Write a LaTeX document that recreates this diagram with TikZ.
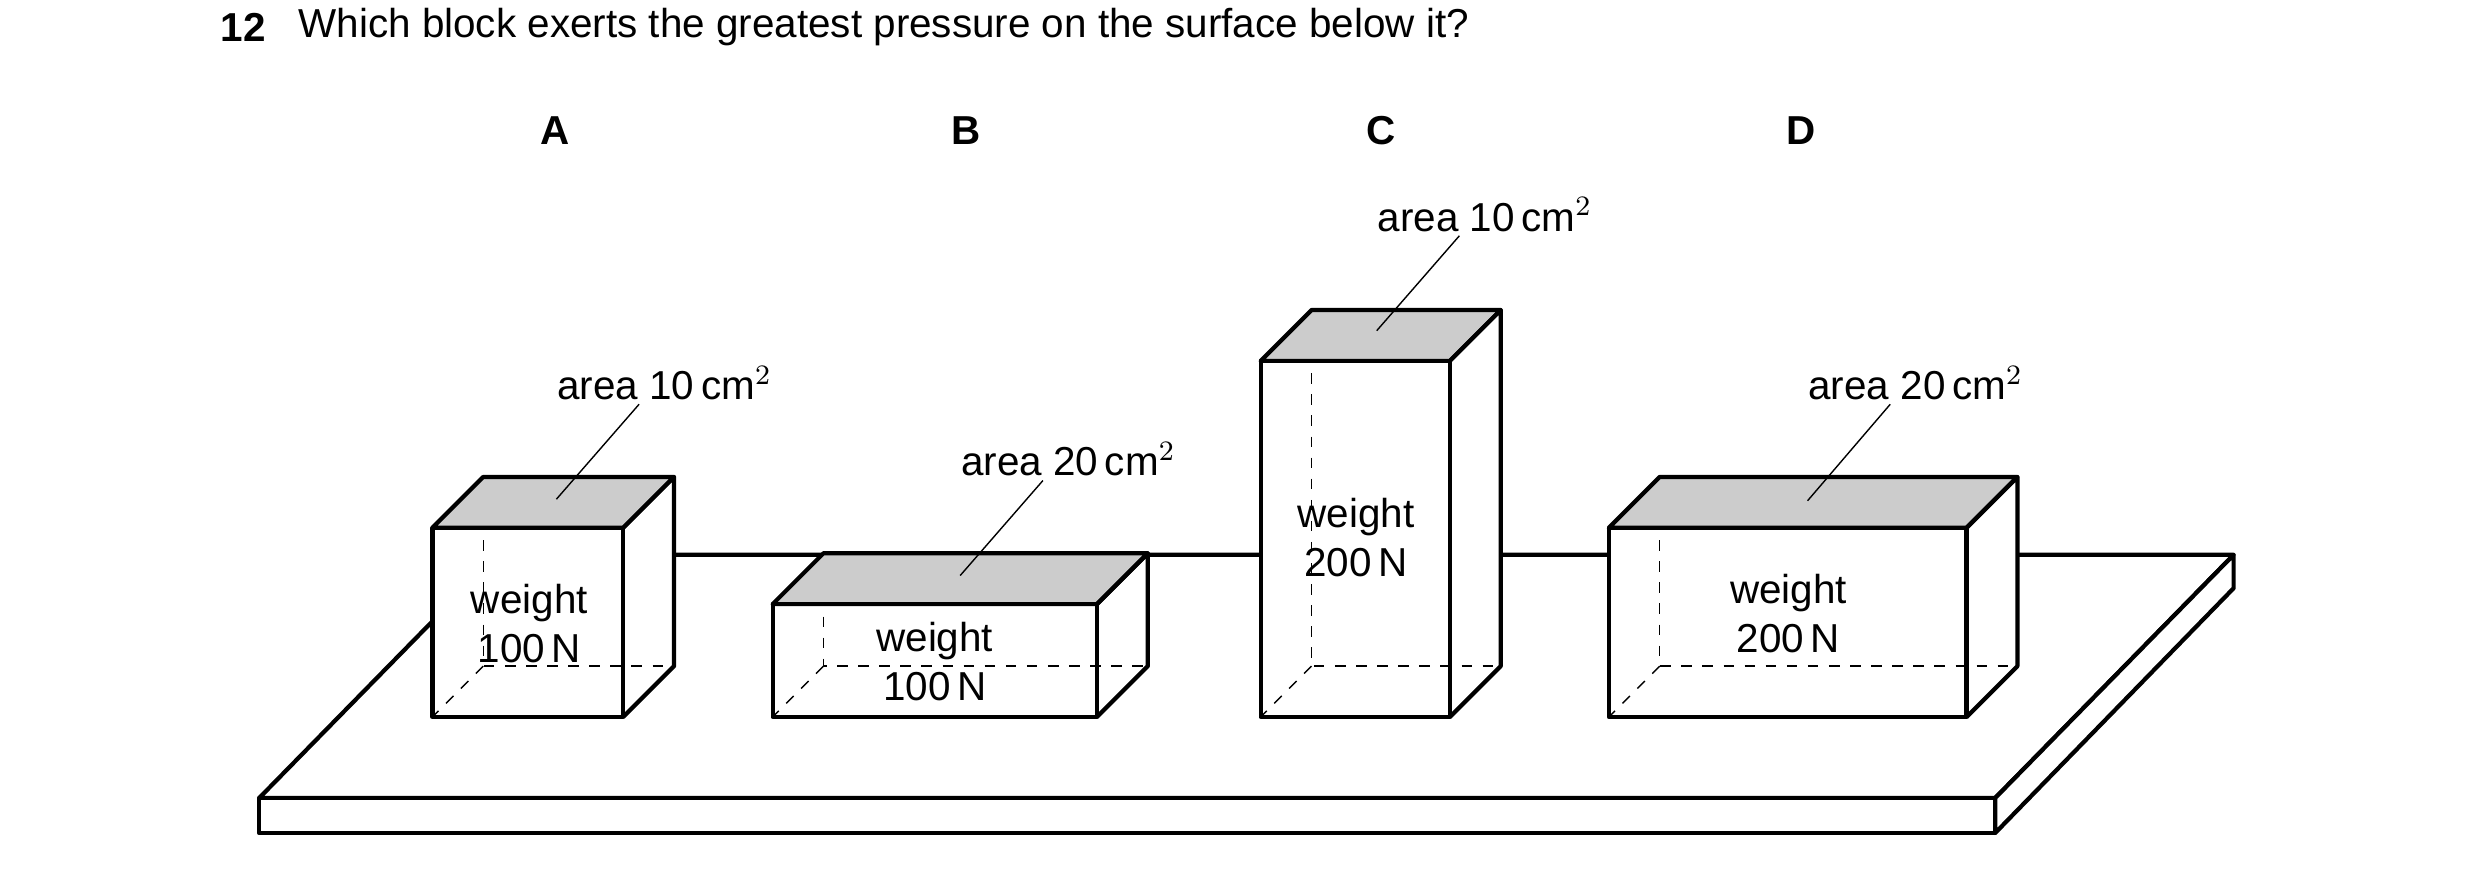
\documentclass[tikz,border=0pt]{standalone}
\usepackage{fontspec}
\setmainfont{Liberation Sans}
\usetikzlibrary{positioning}

\begin{document}
\begin{tikzpicture}[
    x=0.0159cm, y=-0.0159cm,
    font=\fontsize{11.5}{14}\selectfont,
    edge/.style={line width=1.2pt, line join=round},
    hidden/.style={dashed, thin},
    topface/.style={fill=black!20, edge},
    label/.style={inner sep=1pt},
    lead/.style={thin}
]
    \useasboundingbox (0,0) rectangle (1560,548);

    % --- Question ---
    \node[anchor=west, font=\fontsize{11.5}{14}\selectfont\bfseries] (num) at (131,17) {12};
    \node[anchor=west] (question) at (180,17) {Which block exerts the greatest pressure on the surface below it?};

    % --- Table ---
    \draw[edge, fill=white] (163,502) -- (313,349) -- (1405,349) -- (1255,502) -- cycle;
    \draw[edge, fill=white] (163,502) rectangle (1255,524);
    \draw[edge, fill=white] (1255,502) -- (1405,349) -- (1405,370) -- (1255,524) -- cycle;

    % --- Blocks: left, top, right of front face ---
    \foreach \l/\t/\r/\name in {272/332/392/A, 486/380/690/B, 793/227/912/C, 1012/332/1237/D} {
        \fill[white] (\l,451) -- (\l,\t) -- (\l+32,\t-32) -- (\r+32,\t-32) -- (\r+32,419) -- (\r,451) -- cycle;
        \draw[hidden] (\l+32,\t-32) -- (\l+32,419) -- (\r+32,419);
        \draw[hidden] (\l+32,419) -- (\l,451);
        \draw[topface] (\l,\t) -- (\l+32,\t-32) -- (\r+32,\t-32) -- (\r,\t) -- cycle;
        \draw[edge] (\l,\t) rectangle (\r,451);
        \draw[edge] (\r,\t) -- (\r+32,\t-32) -- (\r+32,419) -- (\r,451);
    }

    % --- Block letters ---
    \node[font=\fontsize{11.5}{14}\selectfont\bfseries] (lA) at (349,82) {A};
    \node[font=\fontsize{11.5}{14}\selectfont\bfseries] (lB) at (608,82) {B};
    \node[font=\fontsize{11.5}{14}\selectfont\bfseries] (lC) at (869,82) {C};
    \node[font=\fontsize{11.5}{14}\selectfont\bfseries] (lD) at (1133,82) {D};

    % --- Area labels ---
    \node[label] (areaA) at (418,241) {area 10\,cm$^2$};
    \node[label] (areaB) at (672,289) {area 20\,cm$^2$};
    \node[label] (areaC) at (934,135) {area 10\,cm$^2$};
    \node[label] (areaD) at (1205,241) {area 20\,cm$^2$};
    \coordinate (topA) at (350,314);
    \coordinate (topB) at (604,362);
    \coordinate (topC) at (866,208);
    \coordinate (topD) at (1137,315);
    \draw[lead] (areaA.south) ++(-16,0) -- (topA);
    \draw[lead] (areaB.south) ++(-16,0) -- (topB);
    \draw[lead] (areaC.south) ++(-16,0) -- (topC);
    \draw[lead] (areaD.south) ++(-16,0) -- (topD);

    % --- Weight labels ---
    \node[align=center] (wA) at (333,392) {weight\\100\,N};
    \node[align=center] (wB) at (588,416) {weight\\100\,N};
    \node[align=center] (wC) at (853,338) {weight\\200\,N};
    \node[align=center] (wD) at (1125,386) {weight\\200\,N};
\end{tikzpicture}
\end{document}
